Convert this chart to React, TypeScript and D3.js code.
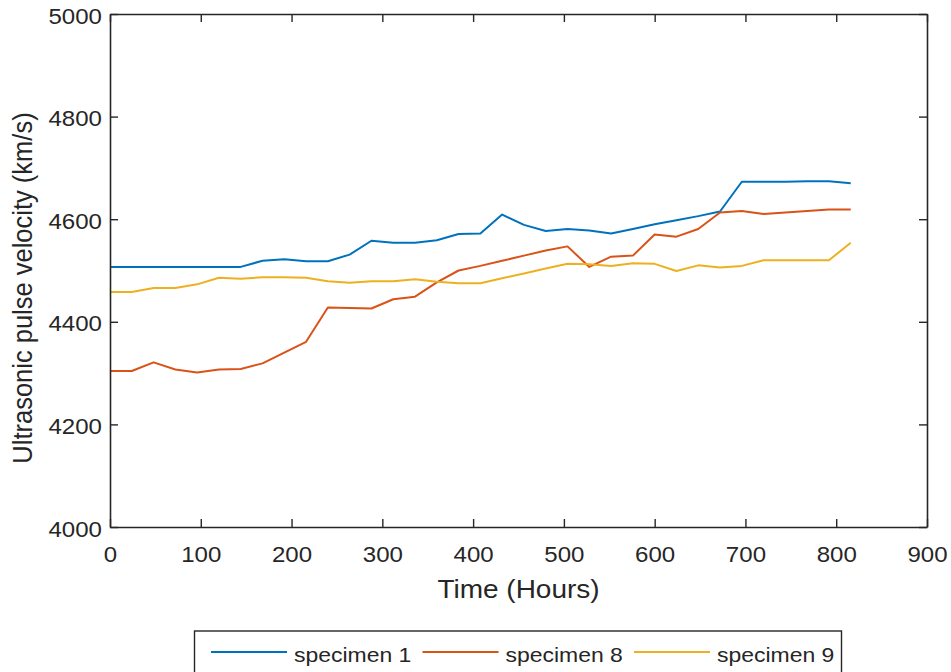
import { useEffect, useRef } from "react"
import * as d3 from "d3"

// hours at which each reading was taken
const hours = [
  0, 24, 48, 72, 96, 120, 144, 168, 192, 216, 240, 264, 288, 312, 336, 360, 384, 408,
  432, 456, 480, 504, 528, 552, 576, 600, 624, 648, 672, 696, 720, 744, 768, 792, 816,
]

const specimen1 = [
  4507, 4507, 4507, 4507, 4507, 4507, 4507, 4519, 4522, 4518, 4518, 4531, 4558, 4554, 4554, 4559, 4571, 4572,
  4609, 4589, 4577, 4581, 4578, 4572, 4581, 4590, 4598, 4606, 4615, 4673, 4673, 4673, 4674, 4674, 4670,
]

const specimen8 = [
  4304, 4304, 4321, 4307, 4301, 4307, 4308, 4319, 4340, 4361, 4428, 4427, 4426, 4444, 4449, 4477, 4500, 4509,
  4519, 4529, 4539, 4547, 4507, 4527, 4529, 4570, 4566, 4581, 4613, 4616, 4610, 4613, 4616, 4619, 4619,
]

const specimen9 = [
  4458, 4458, 4466, 4466, 4473, 4486, 4484, 4487, 4487, 4486, 4479, 4476, 4479, 4479, 4483, 4478, 4475, 4475,
  4485, 4494, 4504, 4513, 4512, 4509, 4514, 4513, 4499, 4510, 4506, 4509, 4520, 4520, 4520, 4520, 4554,
]

const seriesNames = ["specimen 1", "specimen 8", "specimen 9"]
const seriesColors = ["#0072BD", "#D95319", "#EDB120"]

const xTicks = [0, 100, 200, 300, 400, 500, 600, 700, 800, 900]
const yTicks = [4000, 4200, 4400, 4600, 4800, 5000]

const W = 951
const H = 672
const FONT = "'Liberation Sans', Arial, Helvetica, sans-serif"
const INK = "#262626"
const SX = 1.12 // the picture is stretched sideways a little

const App = () => {
  const svgRef = useRef<SVGSVGElement>(null)

  useEffect(() => {
    const svg = d3.select(svgRef.current)
    svg.selectAll("*").remove()

    const left = 110
    const right = 927
    const top = 14
    const bottom = 527

    const x = d3.scaleLinear().domain([0, 900]).range([left, right])
    const y = d3.scaleLinear().domain([4000, 5000]).range([bottom, top])

    svg.append("rect").attr("width", W).attr("height", H).attr("fill", "white")

    // lines
    const allSeries = [specimen1, specimen8, specimen9]
    allSeries.forEach((vals, i) => {
      const line = d3
        .line<number>()
        .x((_, j) => x(hours[j]))
        .y((d) => y(d))
      svg
        .append("path")
        .datum(vals)
        .attr("fill", "none")
        .attr("stroke", seriesColors[i])
        .attr("stroke-width", 2)
        .attr("stroke-linejoin", "round")
        .attr("d", line)
    })

    const styleAxis = (g: any) => {
      g.select(".domain").attr("stroke", INK).attr("stroke-width", 1.6)
      g.selectAll(".tick line").attr("stroke", INK).attr("stroke-width", 1.4)
    }

    // bottom axis
    const gx = svg
      .append("g")
      .attr("transform", `translate(0,${bottom})`)
      .call(d3.axisBottom(x).tickValues(xTicks).tickSizeInner(-8).tickSizeOuter(0).tickFormat(d3.format("d")))
    styleAxis(gx)
    gx.selectAll(".tick text")
      .attr("x", 0)
      .attr("y", 0)
      .attr("dy", 0)
      .attr("transform", `translate(0,35) scale(${SX},1)`)
      .attr("fill", INK)
      .style("font-family", FONT)
      .style("font-size", "21.5px")

    // left axis
    const gy = svg
      .append("g")
      .attr("transform", `translate(${left},0)`)
      .call(d3.axisLeft(y).tickValues(yTicks).tickSizeInner(-8).tickSizeOuter(0).tickFormat(d3.format("d")))
    styleAxis(gy)
    gy.selectAll(".tick text")
      .attr("x", 0)
      .attr("y", 0)
      .attr("dy", "0.42em")
      .attr("transform", `translate(-8,0) scale(${SX},1)`)
      .attr("fill", INK)
      .style("font-family", FONT)
      .style("font-size", "21.5px")

    // top and right edges of the box
    const gt = svg
      .append("g")
      .attr("transform", `translate(0,${top})`)
      .call(d3.axisTop(x).tickValues(xTicks).tickSizeInner(-8).tickSizeOuter(0).tickFormat(() => ""))
    styleAxis(gt)
    const gr = svg
      .append("g")
      .attr("transform", `translate(${right},0)`)
      .call(d3.axisRight(y).tickValues(yTicks).tickSizeInner(-8).tickSizeOuter(0).tickFormat(() => ""))
    styleAxis(gr)

    // axis labels
    svg
      .append("text")
      .attr("transform", `translate(${(left + right) / 2},598) scale(${SX},1)`)
      .attr("text-anchor", "middle")
      .attr("fill", INK)
      .style("font-family", FONT)
      .style("font-size", "25px")
      .text("Time (Hours)")

    svg
      .append("text")
      .attr("transform", `translate(32,288) scale(${SX},1) rotate(-90)`)
      .attr("text-anchor", "middle")
      .attr("fill", INK)
      .style("font-family", FONT)
      .style("font-size", "25.5px")
      .text("Ultrasonic pulse velocity (km/s)")

    // legend
    const lg = svg.append("g")
    lg.append("rect")
      .attr("x", 194.5)
      .attr("y", 631)
      .attr("width", 647)
      .attr("height", 60)
      .attr("fill", "white")
      .attr("stroke", INK)
      .attr("stroke-width", 1.4)

    seriesNames.forEach((name, i) => {
      const x0 = 211 + i * 211.5
      lg.append("line")
        .attr("x1", x0)
        .attr("x2", x0 + 76)
        .attr("y1", 652)
        .attr("y2", 652)
        .attr("stroke", seriesColors[i])
        .attr("stroke-width", 2)
      lg.append("text")
        .attr("transform", `translate(${x0 + 83},662) scale(${SX},1)`)
        .attr("fill", INK)
        .style("font-family", FONT)
        .style("font-size", "20.5px")
        .text(name)
    })
  }, [])

  return (
    <svg
      ref={svgRef}
      width={W}
      height={H}
      style={{ position: "absolute", left: 0, top: 0, display: "block" }}
    ></svg>
  )
}

export default App
